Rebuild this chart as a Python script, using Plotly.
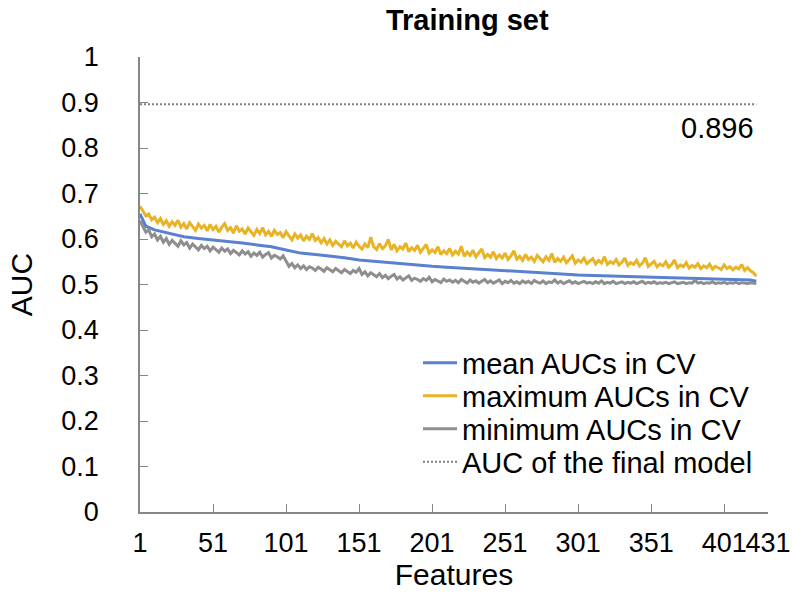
import plotly.graph_objects as go

# ---------------- data ----------------
feat_step2 = list(range(1, 424, 2))  # 1,3,...,423

max_auc = [
    0.672, 0.660, 0.651, 0.655, 0.642, 0.648, 0.636, 0.645, 0.632, 0.640, 0.628, 0.638,
    0.630, 0.641, 0.626, 0.634, 0.622, 0.636, 0.628, 0.619, 0.633, 0.624, 0.630, 0.618,
    0.632, 0.621, 0.628, 0.615, 0.626, 0.634, 0.619, 0.625, 0.613, 0.629, 0.617, 0.622,
    0.611, 0.624, 0.616, 0.608, 0.621, 0.612, 0.625, 0.609, 0.617, 0.606, 0.619, 0.610,
    0.614, 0.603, 0.616, 0.607, 0.598, 0.611, 0.602, 0.609, 0.596, 0.606, 0.599, 0.612,
    0.597, 0.603, 0.592, 0.601, 0.589, 0.598, 0.586, 0.595, 0.588, 0.583, 0.596, 0.585,
    0.591, 0.580, 0.593, 0.584, 0.578, 0.589, 0.581, 0.604, 0.583, 0.577, 0.590, 0.579,
    0.585, 0.599, 0.576, 0.588, 0.574, 0.583, 0.578, 0.591, 0.572, 0.581, 0.575, 0.586,
    0.571, 0.579, 0.588, 0.569, 0.576, 0.570, 0.583, 0.566, 0.574, 0.568, 0.579, 0.565,
    0.573, 0.567, 0.584, 0.562, 0.571, 0.564, 0.575, 0.561, 0.569, 0.578, 0.559, 0.566,
    0.560, 0.572, 0.557, 0.565, 0.558, 0.569, 0.555, 0.563, 0.574, 0.556, 0.562, 0.553,
    0.566, 0.555, 0.560, 0.551, 0.564, 0.556, 0.550, 0.561, 0.553, 0.568, 0.549, 0.557,
    0.551, 0.560, 0.548, 0.555, 0.563, 0.547, 0.554, 0.549, 0.558, 0.546, 0.552, 0.557,
    0.545, 0.553, 0.547, 0.561, 0.544, 0.550, 0.546, 0.555, 0.543, 0.549, 0.558, 0.542,
    0.548, 0.544, 0.553, 0.541, 0.547, 0.559, 0.540, 0.546, 0.551, 0.539, 0.545, 0.541,
    0.550, 0.538, 0.544, 0.554, 0.537, 0.543, 0.539, 0.548, 0.536, 0.542, 0.538, 0.546,
    0.535, 0.541, 0.537, 0.545, 0.534, 0.540, 0.536, 0.533, 0.543, 0.535, 0.539, 0.532,
    0.538, 0.534, 0.544, 0.531, 0.537, 0.530, 0.526, 0.518,
]

min_auc = [
    0.640, 0.628, 0.615, 0.620, 0.605, 0.611, 0.598, 0.606, 0.593, 0.601, 0.588, 0.597,
    0.591, 0.584, 0.596, 0.587, 0.592, 0.580, 0.589, 0.583, 0.576, 0.586, 0.579, 0.584,
    0.574, 0.582, 0.577, 0.571, 0.580, 0.573, 0.578, 0.568, 0.575, 0.570, 0.565, 0.574,
    0.567, 0.572, 0.562, 0.569, 0.564, 0.571, 0.560, 0.566, 0.570, 0.558, 0.564, 0.561,
    0.556, 0.563, 0.552, 0.540, 0.546, 0.537, 0.543, 0.535, 0.541, 0.533, 0.539, 0.536,
    0.531, 0.538, 0.534, 0.529, 0.537, 0.532, 0.528, 0.535, 0.530, 0.526, 0.533, 0.529,
    0.524, 0.531, 0.527, 0.535, 0.522, 0.528, 0.519, 0.526, 0.521, 0.517, 0.524, 0.515,
    0.520, 0.513, 0.518, 0.522, 0.512, 0.517, 0.510, 0.515, 0.519, 0.509, 0.514, 0.511,
    0.507, 0.513, 0.509, 0.516, 0.506, 0.511, 0.508, 0.504, 0.512, 0.507, 0.510, 0.505,
    0.509, 0.504, 0.511, 0.506, 0.503, 0.510, 0.505, 0.508, 0.503, 0.507, 0.511, 0.504,
    0.508, 0.503, 0.506, 0.510, 0.502, 0.507, 0.504, 0.509, 0.503, 0.506, 0.502, 0.508,
    0.504, 0.507, 0.502, 0.509, 0.505, 0.503, 0.508, 0.502, 0.506, 0.504, 0.510, 0.503,
    0.507, 0.502, 0.505, 0.508, 0.503, 0.506, 0.502, 0.504, 0.507, 0.503, 0.505, 0.502,
    0.506, 0.503, 0.508, 0.502, 0.505, 0.503, 0.507, 0.502, 0.504, 0.506, 0.502, 0.505,
    0.503, 0.506, 0.502, 0.504, 0.507, 0.502, 0.505, 0.503, 0.506, 0.502, 0.504, 0.503,
    0.505, 0.502, 0.504, 0.506, 0.502, 0.503, 0.505, 0.502, 0.504, 0.503, 0.509, 0.503,
    0.505, 0.502, 0.504, 0.503, 0.506, 0.502, 0.504, 0.503, 0.505, 0.502, 0.504, 0.503,
    0.505, 0.502, 0.504, 0.503, 0.502, 0.504, 0.503, 0.502,
]

mean_feat = [1, 3, 5, 11, 21, 31, 41, 51, 61, 71, 81, 91, 101, 111, 121, 131, 141,
             151, 161, 171, 181, 191, 201, 211, 221, 231, 241, 251, 261, 271, 281,
             291, 301, 311, 321, 331, 341, 351, 361, 371, 381, 391, 401, 411, 419, 423]
mean_auc = [0.655, 0.640, 0.628, 0.620, 0.612, 0.605, 0.601, 0.598, 0.594, 0.591,
            0.587, 0.583, 0.576, 0.569, 0.566, 0.563, 0.559, 0.554, 0.551, 0.548,
            0.545, 0.542, 0.540, 0.538, 0.536, 0.534, 0.532, 0.531, 0.529, 0.527,
            0.525, 0.523, 0.521, 0.520, 0.519, 0.518, 0.518, 0.517, 0.516, 0.515,
            0.514, 0.513, 0.512, 0.511, 0.510, 0.507]

final_auc = 0.896
final_feat = [1, 423]

series_names = ["mean AUCs in CV", "maximum AUCs in CV",
                "minimum AUCs in CV", "AUC of the final model"]

x_tickvals = [1, 51, 101, 151, 201, 251, 301, 351, 401, 431]
x_ticktext = ["1", "51", "101", "151", "201", "251", "301", "351", "401", "431"]
y_tickvals = [0, 0.1, 0.2, 0.3, 0.4, 0.5, 0.6, 0.7, 0.8, 0.9, 1]
y_ticktext = ["0", "0.1", "0.2", "0.3", "0.4", "0.5", "0.6", "0.7", "0.8", "0.9", "1"]

FONT = "Liberation Sans, Arial, sans-serif"
AXIS_COLOR = "#868686"
FS = 29
TFS = 27
X_RANGE = [1, 431]

# plot-area geometry in pixels
L, R, T, B = 140, 24, 57, 91
PW, PH = 792 - L - R, 603 - T - B

fig = go.Figure()
fig.add_trace(go.Scatter(x=mean_feat, y=mean_auc, mode="lines",
                         name=series_names[0], legend="legend",
                         line=dict(color="#5A80D0", width=3)))
fig.add_trace(go.Scatter(x=feat_step2, y=max_auc, mode="lines",
                         name=series_names[1], legend="legend2",
                         line=dict(color="#E8B426", width=3)))
fig.add_trace(go.Scatter(x=feat_step2, y=min_auc, mode="lines",
                         name=series_names[2], legend="legend3",
                         line=dict(color="#8E8E8E", width=3)))
fig.add_trace(go.Scatter(x=final_feat, y=[final_auc] * len(final_feat), mode="lines",
                         name=series_names[3], legend="legend4",
                         line=dict(color="#7F7F7F", width=2, dash="2px,2px")))

fig.add_annotation(x=final_feat[-1], y=final_auc, text=f"{final_auc:.3f}",
                   showarrow=False, xanchor="right", yanchor="middle", yshift=-24,
                   font=dict(family=FONT, size=FS, color="#000000"))

def leg(ypx):
    return dict(x=(418 - L) / PW, y=(T + PH - ypx) / PH,
                xanchor="left", yanchor="middle", bgcolor="rgba(0,0,0,0)",
                font=dict(family=FONT, size=FS, color="#000000"),
                itemwidth=34)

axis_common = dict(ticks="inside", ticklen=8, tickwidth=1.3, tickcolor=AXIS_COLOR,
                   showline=True, linecolor=AXIS_COLOR, linewidth=1.5,
                   showgrid=False, zeroline=False, automargin=False, tickangle=0)

fig.update_layout(
    width=792, height=603,
    margin=dict(l=L, r=R, t=T, b=B),
    paper_bgcolor="white", plot_bgcolor="white",
    title=dict(text="<b>Training set</b>", x=0.59, xanchor="center",
               y=0.967, yanchor="middle",
               font=dict(family=FONT, size=29, color="#000000")),
    font=dict(family=FONT, size=FS, color="#000000"),
    showlegend=True,
    legend=leg(363), legend2=leg(396), legend3=leg(429), legend4=leg(462),
    xaxis=dict(range=X_RANGE, tickmode="array", tickvals=x_tickvals,
               ticktext=x_ticktext, ticklabelstandoff=6,
               tickfont=dict(family=FONT, size=TFS),
               title=dict(text="Features", font=dict(family=FONT, size=30),
                          standoff=6),
               **axis_common),
    yaxis=dict(range=[0, 1], tickmode="array", tickvals=y_tickvals,
               ticktext=y_ticktext, ticklabelstandoff=34,
               tickfont=dict(family=FONT, size=TFS),
               title=dict(text="AUC", font=dict(family=FONT, size=30),
                          standoff=20),
               **axis_common),
)

fig.write_html("out.html", config={"displayModeBar": False},
               post_script="document.body.style.margin='0';")
